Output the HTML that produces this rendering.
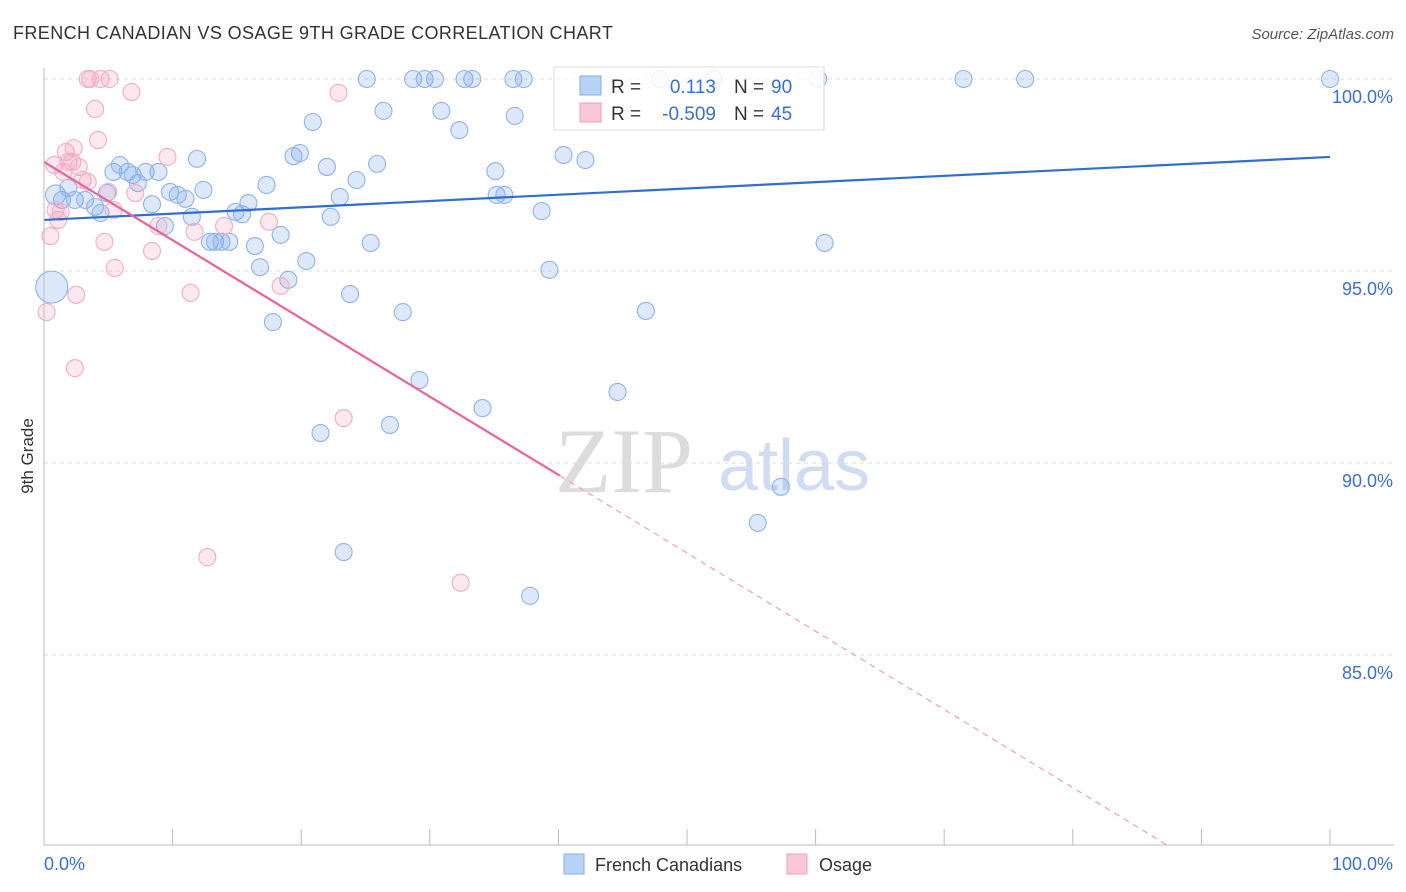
<!DOCTYPE html>
<html><head><meta charset="utf-8"><style>
body{margin:0;background:#fff;font-family:"Liberation Sans",sans-serif;}
svg{display:block}
</style></head><body>
<svg id="chart" width="1406" height="892">
<text x="13" y="39" font-size="18" letter-spacing="0.4" fill="#333">FRENCH CANADIAN VS OSAGE 9TH GRADE CORRELATION CHART</text>
<text x="1394" y="39" font-size="15" fill="#555" text-anchor="end" font-style="italic">Source: ZipAtlas.com</text>
<text transform="translate(33,456) rotate(-90)" font-size="17" fill="#333" text-anchor="middle">9th Grade</text>
<g id="grid"></g>
<g>
<text x="555" y="492" font-size="92" font-family="Liberation Serif,serif" fill="#dcdcdc">ZIP</text>
<text x="718" y="490" font-size="72" fill="#cfdcf2">atlas</text>
</g>
<g id="marks"></g>
<g id="axes"></g>
<g>
<rect x="554" y="67" width="270" height="63" fill="#fff" fill-opacity="0.85" stroke="#ddd"/>
<rect x="580" y="76" width="21" height="19" fill="#b8d2f5" stroke="#85aee6"/>
<rect x="580" y="103" width="21" height="19" fill="#f9c8d6" stroke="#efa0b8"/>
<text x="611" y="93" font-size="19" fill="#333">R =</text>
<text x="716" y="93" font-size="19" fill="#3a6fd0" text-anchor="end">0.113</text>
<text x="734" y="93" font-size="19" fill="#333">N =</text>
<text x="771" y="93" font-size="19" fill="#3a6fd0">90</text>
<text x="611" y="120" font-size="19" fill="#333">R =</text>
<text x="716" y="120" font-size="19" fill="#3a6fd0" text-anchor="end">-0.509</text>
<text x="734" y="120" font-size="19" fill="#333">N =</text>
<text x="771" y="120" font-size="19" fill="#3a6fd0">45</text>
</g>
<g>
<rect x="564" y="854" width="20" height="20" fill="#b8d2f5" stroke="#85aee6"/>
<text x="595" y="871" font-size="18" fill="#333">French Canadians</text>
<rect x="787" y="854" width="20" height="20" fill="#f9c8d6" stroke="#efa0b8"/>
<text x="819" y="871" font-size="18" fill="#333">Osage</text>
</g>
</svg>
<script>
const blueX=[0.6,0.9,1.4,1.9,2.4,3.2,3.97,4.4,4.9,5.4,5.9,6.5,6.9,7.3,7.9,8.4,8.9,9.4,9.8,10.4,11.0,11.5,11.9,12.4,12.9,13.3,13.8,14.4,14.9,15.4,15.9,16.4,16.8,17.3,17.8,18.4,19.0,19.4,19.9,20.4,20.9,21.5,22.0,22.3,23.0,23.3,23.8,24.3,25.1,25.4,25.9,26.4,26.9,27.9,28.7,29.2,29.6,30.4,30.9,32.3,32.7,33.3,34.1,35.1,35.2,35.8,36.5,36.6,37.3,37.8,38.7,39.3,40.4,42.1,44.6,46.8,47.9,52.1,55.5,57.3,60.2,60.7,71.5,76.3,100];
const blueY=[94.58,96.98,96.85,97.16,96.85,96.85,96.67,96.51,97.03,97.58,97.76,97.58,97.5,97.29,97.58,96.74,97.58,96.17,97.06,96.98,96.88,96.41,97.92,97.11,95.76,95.76,95.76,95.76,96.54,96.48,96.77,95.65,95.10,97.24,93.67,95.94,94.77,97.99,98.07,95.26,98.88,90.78,97.71,96.41,96.93,87.68,94.40,97.37,100,95.73,97.79,99.17,90.99,93.93,100,92.16,100,100,99.17,98.67,100,100,91.43,97.6,96.98,96.98,100,99.04,100,86.54,96.56,95.03,98.02,97.89,91.85,93.96,100,100,88.44,89.38,100,95.73,100,100,100];
const pinkX=[0.2,0.5,0.8,0.9,1.1,1.3,1.5,1.7,1.9,2.2,2.3,2.5,2.7,2.4,3.0,3.4,3.6,3.4,3.97,4.2,4.4,4.7,5.0,5.1,5.4,5.5,6.8,7.1,8.4,8.9,9.6,11.4,11.7,12.7,14.0,17.5,18.4,22.9,23.3,32.4];
const pinkY=[93.93,95.91,97.76,96.59,96.33,96.54,97.58,98.1,97.84,97.84,98.2,94.38,97.71,92.47,97.37,100,100,97.32,99.22,98.41,100,95.76,97.06,100,96.59,95.08,99.66,97.03,95.52,96.17,97.97,94.43,96.02,87.55,96.17,96.28,94.61,99.64,91.17,86.88];
const blueTrend=[96.33,97.97];
const pinkTrend=[97.84,-0.2037];
const yTicks=[100,95,90,85];
const NS="http://www.w3.org/2000/svg";
const X=v=>44+v*12.86, Y=v=>79+(100-v)*38.4;
function el(t,a,p){const e=document.createElementNS(NS,t);for(const k in a)e.setAttribute(k,a[k]);p.appendChild(e);return e;}
const grid=document.getElementById('grid'),marks=document.getElementById('marks'),axes=document.getElementById('axes');
yTicks.forEach(t=>{
 const l=el('line',{x1:44,x2:1394,y1:Y(t),y2:Y(t),stroke:'#ddd','stroke-dasharray':'4,4'},grid);
 
 
 const tx=el('text',{x:1393,y:Y(t)+24,'font-size':18,fill:'#3a6fd0','text-anchor':'end'},axes);
 tx.textContent=t.toFixed(1)+'%';
 
 
});
el('line',{x1:44,x2:44,y1:68,y2:845,stroke:'#bbb'},axes);
el('line',{x1:44,x2:1394,y1:845,y2:845,stroke:'#bbb'},axes);
for(let i=0;i<=10;i++){const t=el('line',{x1:X(i*10),x2:X(i*10),y1:829,y2:845,stroke:'#bbb'},axes);
 
 }
const x0=el('text',{x:44,y:870,'font-size':18,fill:'#3a6fd0'},axes);x0.textContent='0.0%';


const x1=el('text',{x:1393,y:870,'font-size':18,fill:'#3a6fd0','text-anchor':'end'},axes);x1.textContent='100.0%';


blueX.forEach((v,i)=>{const c=el('circle',{cx:X(v),cy:Y(blueY[i]),r:i===0?16:(i===1?10:8.5),fill:'rgba(120,165,235,0.25)',stroke:'#8fb3ea','stroke-width':1.1},marks);
 
 });
pinkX.forEach((v,i)=>{const c=el('circle',{cx:X(v),cy:Y(pinkY[i]),r:8.5,fill:'rgba(245,150,180,0.22)',stroke:'#f2aec3','stroke-width':1.1},marks);
 
 });
const bl=el('line',{x1:X(0),y1:Y(blueTrend[0]),x2:X(100),y2:Y(blueTrend[1]),stroke:'#2f6fd0','stroke-width':2.2},marks);


const pv=x=>pinkTrend[0]+pinkTrend[1]*x;
const pl=el('line',{x1:X(0),y1:Y(pv(0)),x2:X(40.1),y2:Y(pv(40.1)),stroke:'#e8659a','stroke-width':2.2},marks);


const xe=(pinkTrend[0]-80)/-pinkTrend[1];
const pd=el('line',{x1:X(40.1),y1:Y(pv(40.1)),x2:X(xe),y2:Y(80),stroke:'#eea0bd','stroke-width':1.2,'stroke-dasharray':'6,5'},marks);


</script>
</body></html>
